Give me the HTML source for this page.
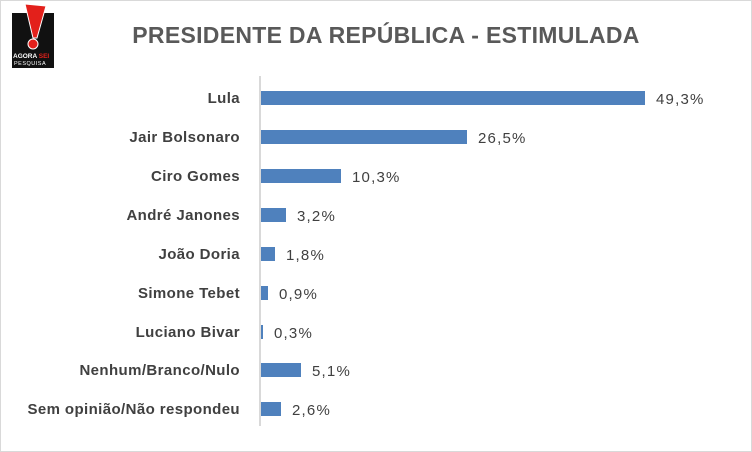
<!DOCTYPE html><html><head><style>
body{margin:0;width:752px;height:452px;background:#fff;font-family:"Liberation Sans",sans-serif;overflow:hidden}
.f{position:absolute;left:0;top:0;width:750px;height:450px;border:1px solid #d9d9d9}
.t{position:absolute;left:0;width:752px;top:22px;text-align:center;font-size:23px;font-weight:bold;color:#595959;padding-left:20px;box-sizing:border-box;letter-spacing:0.3px}
.l{position:absolute;right:512px;font-size:15px;font-weight:bold;color:#404040;white-space:nowrap;letter-spacing:0.4px}
.v{position:absolute;font-size:15px;color:#404040;letter-spacing:1.2px}
.b{position:absolute;left:261px;height:14px;background:#4f81bd}
</style></head><body><div class="f"></div>
<svg style="position:absolute;left:0;top:0" width="60" height="72">
<rect x="12" y="13" width="42" height="55" fill="#111"/>
<polygon points="25,4 46,6 37,38 33,38" fill="#e3201b" stroke="#fff" stroke-width="1"/>
<circle cx="33" cy="44" r="5" fill="#e3201b" stroke="#fff" stroke-width="1"/>
<text x="13" y="58" font-size="6.5" font-weight="bold" fill="#fff" font-family="Liberation Sans">AGORA <tspan fill="#e3201b">SEI</tspan></text>
<text x="14" y="65" font-size="5.5" fill="#fff" font-family="Liberation Sans" letter-spacing="0.5">PESQUISA</text>
</svg>
<div class="t">PRESIDENTE DA REPÚBLICA - ESTIMULADA</div>
<div style="position:absolute;left:259px;top:76px;width:2px;height:350px;background:#d9d9d9"></div>
<div class="l" style="top:90px">Lula</div><div class="b" style="top:91px;width:384px"></div><div class="v" style="left:656px;top:91px">49,3%</div>
<div class="l" style="top:129px">Jair Bolsonaro</div><div class="b" style="top:130px;width:206px"></div><div class="v" style="left:478px;top:130px">26,5%</div>
<div class="l" style="top:168px">Ciro Gomes</div><div class="b" style="top:169px;width:80px"></div><div class="v" style="left:352px;top:169px">10,3%</div>
<div class="l" style="top:207px">André Janones</div><div class="b" style="top:208px;width:25px"></div><div class="v" style="left:297px;top:208px">3,2%</div>
<div class="l" style="top:246px">João Doria</div><div class="b" style="top:247px;width:14px"></div><div class="v" style="left:286px;top:247px">1,8%</div>
<div class="l" style="top:285px">Simone Tebet</div><div class="b" style="top:286px;width:7px"></div><div class="v" style="left:279px;top:286px">0,9%</div>
<div class="l" style="top:324px">Luciano Bivar</div><div class="b" style="top:325px;width:2px"></div><div class="v" style="left:274px;top:325px">0,3%</div>
<div class="l" style="top:362px">Nenhum/Branco/Nulo</div><div class="b" style="top:363px;width:40px"></div><div class="v" style="left:312px;top:363px">5,1%</div>
<div class="l" style="top:401px">Sem opinião/Não respondeu</div><div class="b" style="top:402px;width:20px"></div><div class="v" style="left:292px;top:402px">2,6%</div>
</body></html>
